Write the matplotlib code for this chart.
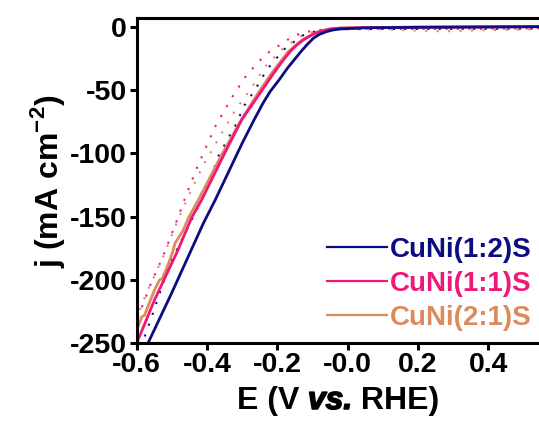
import matplotlib
matplotlib.use("Agg")
import matplotlib.pyplot as plt
import matplotlib.patheffects as pe
from matplotlib.offsetbox import AnchoredOffsetbox, HPacker, TextArea

plt.rcParams['font.family'] = ['Liberation Sans', 'DejaVu Sans']
plt.rcParams['font.weight'] = 'bold'
plt.rcParams['axes.labelweight'] = 'bold'
plt.rcParams['axes.unicode_minus'] = False
plt.rcParams['mathtext.fontset'] = 'custom'
plt.rcParams['mathtext.rm'] = 'Liberation Sans:weight=bold'
plt.rcParams['mathtext.bf'] = 'Liberation Sans:weight=bold'

# LSV curves, potential (V vs RHE) and current density (mA cm-2)
labels = ["CuNi(1:2)S", "CuNi(1:1)S", "CuNi(2:1)S"]
colors = ["#0c0c82", "#ef1879", "#dc8c5c"]

e_12 = [-0.568, -0.50, -0.41, -0.377, -0.30, -0.267, -0.24, -0.22, -0.195,
        -0.172, -0.15, -0.134, -0.115, -0.097, -0.08, -0.058, -0.04, -0.02,
        0.05, 0.2, 0.4, 0.55]
j_12 = [-250, -210, -155, -137, -92, -74, -60, -51, -42,
        -33, -25.5, -20, -14, -9, -6, -3.7, -2.5, -1.8,
        -0.9, -0.5, -0.2, 0.0]

e_11 = [-0.60, -0.549, -0.482, -0.444, -0.415, -0.35, -0.301, -0.249, -0.21,
        -0.185, -0.163, -0.145, -0.125, -0.105, -0.087, -0.068, -0.049, -0.025,
        0.05, 0.2, 0.4, 0.55]
j_11 = [-250, -215.6, -176, -151, -136.6, -100, -73.4, -52.4, -36.6,
        -27, -19.5, -14.5, -10.3, -7, -4.5, -2.9, -1.8, -1.2,
        -0.7, -0.4, -0.2, 0.0]

e_21 = [-0.596, -0.585, -0.578, -0.568, -0.549, -0.535, -0.527, -0.509, -0.498,
        -0.491, -0.47, -0.462, -0.453, -0.425, -0.36, -0.308, -0.256, -0.217,
        -0.17, -0.13, -0.09, -0.05, -0.025, 0.05, 0.2, 0.4, 0.55]
j_21 = [-236.6, -229, -228, -220.9, -207.7, -200, -199, -186.6, -178,
        -171, -162, -157, -151, -137, -102, -76, -53, -37,
        -20, -10.5, -4.6, -1.8, -1.2, -0.7, -0.4, -0.2, 0.0]

# second scan of each sample (dotted)
e_12b = [-0.577, -0.557, -0.534, -0.509, -0.415, -0.391, -0.368, -0.334, -0.315,
         -0.296, -0.263, -0.23, -0.182, -0.13, -0.09, -0.03, 0.1, 0.3, 0.55]
j_12b = [-244.6, -228.8, -210, -189, -136.6, -121, -102.4, -85.3, -76,
         -63, -49.7, -34, -18.2, -7.1, -3.5, -2.0, -1.8, -1.8, -1.5]

e_11b = [-0.597, -0.557, -0.529, -0.491, -0.466, -0.434, -0.406, -0.377, -0.344,
         -0.325, -0.287, -0.234, -0.182, -0.153, -0.115, -0.07, 0.0, 0.2, 0.4, 0.55]
j_11b = [-230, -201, -184, -157, -138, -115, -97, -79, -63,
         -54, -38, -22, -12.4, -7.1, -4, -2.2, -1.5, -1.8, -1.6, -1.2]

e_21b = [-0.591, -0.568, -0.52, -0.482, -0.453, -0.41, -0.358, -0.32, -0.277,
         -0.234, -0.182, -0.134, -0.09, -0.03, 0.1, 0.27, 0.4, 0.55]
j_21b = [-223.6, -207.7, -178.7, -152, -134, -109, -84, -66, -49.7,
         -31.3, -16.8, -7.6, -3.5, -2.0, -2.2, -3.7, -2.8, -2.0]

x_ticks = [-0.6, -0.4, -0.2, 0.0, 0.2, 0.4]
x_ticklabels = ["-0.6", "-0.4", "-0.2", "-0.0", "0.2", "0.4"]
y_ticks = [0, -50, -100, -150, -200, -250]


def main():
    fig = plt.figure(figsize=(5.39, 4.21), dpi=100)
    ax = fig.add_axes([0.2536, 0.1846, 0.7464, 0.7719])

    solid = [(e_12, j_12), (e_11, j_11), (e_21, j_21)]
    dotted = [(e_12b, j_12b), (e_11b, j_11b), (e_21b, j_21b)]

    for (e, j), c in zip(dotted, colors):
        ax.plot(e, j, color=c, lw=1.5, linestyle=(0, (1, 4.5)))
    # orange first so pink and blue sit on top
    for idx in [2, 1, 0]:
        e, j = solid[idx]
        ax.plot(e, j, color=colors[idx], lw=2.0, label=labels[idx])

    ax.set_xlim(-0.6, 0.544)
    ax.set_ylim(-250, 6.6)
    ax.set_xticks(x_ticks)
    ax.set_xticklabels(x_ticklabels)
    ax.set_yticks(y_ticks)

    ax.spines['right'].set_visible(False)
    for s in ['left', 'bottom', 'top']:
        ax.spines[s].set_linewidth(2.2)
    ax.tick_params(axis='both', direction='out', length=5, width=2.2,
                   labelsize=20.5)
    ax.tick_params(axis='x', pad=1)
    ax.tick_params(axis='y', pad=2)
    ax.tick_params(top=False, right=False)

    # x label with italic "vs." in the middle (stroke thickens the italic)
    kw = dict(fontsize=23, fontweight='bold')
    ital = dict(kw, fontstyle='italic',
                path_effects=[pe.withStroke(linewidth=1.1, foreground='black')])
    parts = [TextArea("E (V ", textprops=kw),
             TextArea("vs.", textprops=ital),
             TextArea(" RHE)", textprops=kw)]
    xlab = AnchoredOffsetbox(loc='upper center',
                             child=HPacker(children=parts, align='baseline',
                                           pad=0, sep=0),
                             pad=0, borderpad=0, frameon=False,
                             bbox_to_anchor=(338 / 539, 1 - 386 / 421),
                             bbox_transform=fig.transFigure)
    fig.add_artist(xlab)
    ax.set_ylabel("j (mA cm$^{-2}$)", fontsize=23, labelpad=2)

    handles, labs = ax.get_legend_handles_labels()
    order = [2, 1, 0]
    leg = ax.legend([handles[i] for i in order], [labs[i] for i in order],
                    loc='upper left', frameon=False, fontsize=20,
                    handlelength=2.15, handletextpad=0.12, labelspacing=0.28,
                    borderaxespad=0, borderpad=0,
                    bbox_to_anchor=(327 / 539, 1 - 237 / 421),
                    bbox_transform=fig.transFigure, labelcolor='linecolor')
    for t in leg.get_texts():
        t.set_fontweight('bold')
    for h in leg.get_lines():
        h.set_linewidth(1.6)

    fig.savefig("out.png", dpi=100)


if __name__ == '__main__':
    main()
